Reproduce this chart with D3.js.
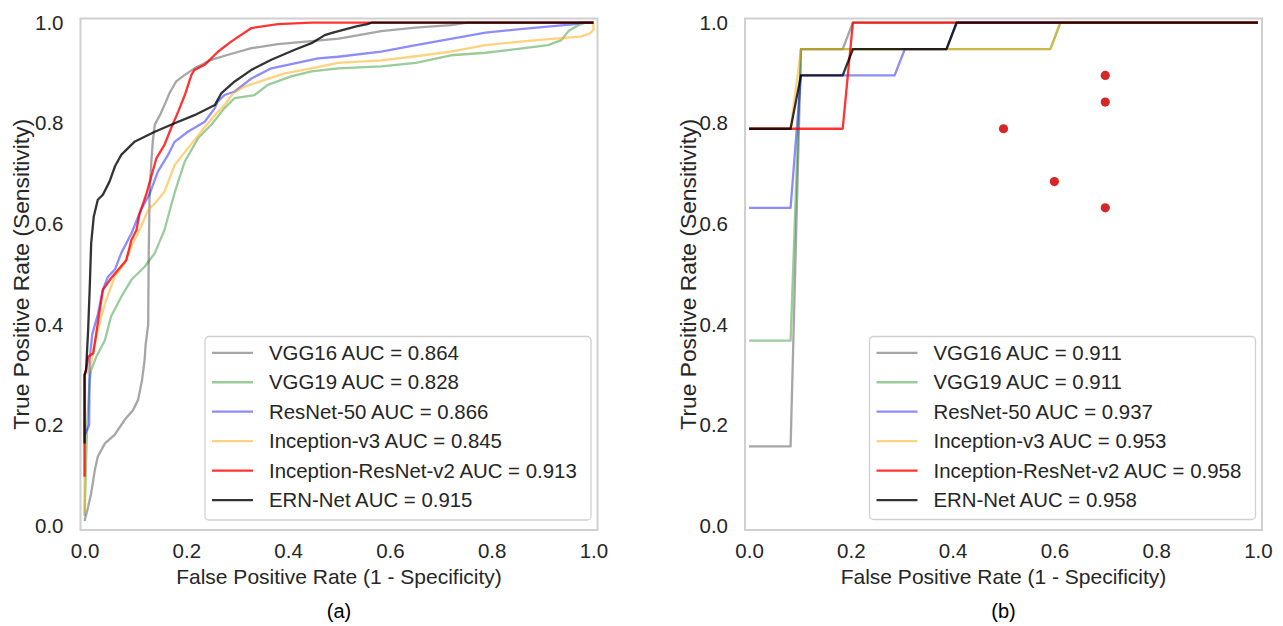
<!DOCTYPE html>
<html>
<head>
<meta charset="utf-8">
<script src="https://cdnjs.cloudflare.com/ajax/libs/d3/7.8.5/d3.min.js"></script>
<style>
  body { margin: 0; background: #fff; }
  svg { display: block; font-family: "Liberation Sans", Arial, sans-serif; }
</style>
</head>
<body>
<svg id="fig" width="1283" height="626"></svg>
<script>
(function () {

  // model names, in plotting order
  var models = ["VGG16", "VGG19", "ResNet-50", "Inception-v3", "Inception-ResNet-v2", "ERN-Net"]
  var aucA = ["0.864", "0.828", "0.866", "0.845", "0.913", "0.915"]
  var aucB = ["0.911", "0.911", "0.937", "0.953", "0.958", "0.958"]
  var ticks = [0.0, 0.2, 0.4, 0.6, 0.8, 1.0]

  // panel (a) ROC points [fpr, tpr]
  var rocA_vgg16 = [[0,0.01],[0.007,0.038],[0.013,0.065],[0.02,0.11],[0.026,0.138],[0.04,0.164],[0.059,0.181],
    [0.079,0.211],[0.095,0.23],[0.105,0.25],[0.113,0.29],[0.118,0.33],[0.12,0.36],[0.125,0.4],[0.126,0.535],
    [0.128,0.667],[0.131,0.72],[0.134,0.763],[0.138,0.797],[0.148,0.816],[0.157,0.836],[0.167,0.86],[0.18,0.883],
    [0.197,0.896],[0.216,0.909],[0.249,0.926],[0.282,0.936],[0.328,0.949],[0.38,0.957],[0.446,0.963],[0.5,0.968],
    [0.583,0.983],[0.65,0.99],[0.72,0.995],[0.753,1.0],[1,1]]
  var rocA_vgg19 = [[0,0.02],[0.005,0.2],[0.01,0.29],[0.013,0.31],[0.023,0.336],[0.04,0.369],[0.052,0.416],
    [0.072,0.455],[0.092,0.489],[0.118,0.515],[0.138,0.542],[0.157,0.588],[0.167,0.625],[0.177,0.662],[0.197,0.724],
    [0.223,0.77],[0.249,0.797],[0.275,0.83],[0.295,0.85],[0.334,0.856],[0.36,0.876],[0.406,0.893],[0.446,0.903],
    [0.498,0.909],[0.583,0.913],[0.651,0.92],[0.72,0.935],[0.788,0.94],[0.856,0.948],[0.911,0.955],[0.937,0.965],
    [0.951,0.983],[0.971,0.995],[0.985,1.0],[1,1]]
  var rocA_resnet = [[0,0.18],[0.009,0.2],[0.01,0.33],[0.015,0.38],[0.026,0.42],[0.036,0.47],[0.046,0.495],
    [0.06,0.51],[0.072,0.542],[0.092,0.581],[0.111,0.628],[0.128,0.66],[0.144,0.704],[0.164,0.737],[0.177,0.763],
    [0.203,0.783],[0.236,0.803],[0.256,0.83],[0.262,0.843],[0.275,0.856],[0.295,0.863],[0.328,0.889],[0.367,0.909],
    [0.413,0.919],[0.459,0.929],[0.498,0.932],[0.583,0.942],[0.651,0.955],[0.788,0.98],[0.856,0.987],[0.964,0.997],
    [0.975,1.0],[1,1]]
  var rocA_incv3 = [[0,0.026],[0,0.3],[0.01,0.31],[0.026,0.389],[0.04,0.442],[0.059,0.495],[0.079,0.522],
    [0.092,0.555],[0.108,0.588],[0.125,0.628],[0.141,0.644],[0.157,0.664],[0.177,0.717],[0.203,0.75],[0.229,0.783],
    [0.256,0.816],[0.275,0.836],[0.292,0.86],[0.315,0.873],[0.354,0.886],[0.393,0.899],[0.446,0.909],[0.498,0.92],
    [0.583,0.925],[0.651,0.933],[0.72,0.942],[0.788,0.955],[0.856,0.962],[0.924,0.968],[0.975,0.972],[0.992,0.978],
    [1.0,0.985],[1.0,1.0]]
  var rocA_incres = [[0,0.098],[0,0.3],[0.003,0.31],[0.007,0.336],[0.017,0.343],[0.026,0.403],[0.036,0.469],
    [0.052,0.492],[0.066,0.509],[0.082,0.528],[0.092,0.568],[0.102,0.588],[0.108,0.62],[0.121,0.658],[0.141,0.73],
    [0.157,0.757],[0.17,0.79],[0.184,0.823],[0.197,0.856],[0.21,0.896],[0.216,0.906],[0.236,0.916],[0.262,0.942],
    [0.288,0.962],[0.328,0.989],[0.38,0.997],[0.445,1.0],[1,1]]
  var rocA_ern = [[0,0.164],[0,0.3],[0.003,0.31],[0.007,0.389],[0.01,0.469],[0.013,0.562],[0.018,0.614],
    [0.026,0.648],[0.036,0.658],[0.049,0.684],[0.06,0.715],[0.072,0.737],[0.085,0.75],[0.098,0.763],[0.138,0.783],
    [0.177,0.8],[0.216,0.816],[0.256,0.836],[0.269,0.86],[0.295,0.883],[0.328,0.906],[0.367,0.926],[0.413,0.946],
    [0.446,0.959],[0.472,0.975],[0.488,0.98],[0.536,0.993],[0.556,0.997],[0.565,1.0],[1,1]]

  // panel (b) ROC points [fpr, tpr]
  var rocB_vgg16 = [[0,0.158],[0.0816,0.158],[0.102,0.947],[0.184,0.947],[0.204,1],[1,1]]
  var rocB_vgg19 = [[0,0.368],[0.0816,0.368],[0.102,0.947],[0.592,0.947],[0.612,1],[1,1]]
  var rocB_resnet = [[0,0.632],[0.0816,0.632],[0.102,0.895],[0.286,0.895],[0.306,0.947],[0.388,0.947],[0.408,1],[1,1]]
  var rocB_incv3 = [[0,0.789],[0.0816,0.789],[0.102,0.947],[0.592,0.947],[0.612,1],[1,1]]
  var rocB_incres = [[0,0.789],[0.184,0.789],[0.204,1],[1,1]]
  var rocB_ern = [[0,0.789],[0.0816,0.789],[0.102,0.895],[0.184,0.895],[0.204,0.947],[0.388,0.947],[0.408,1],[1,1]]

  // red scatter points in panel (b)
  var dotsFpr = [0.5, 0.6, 0.7, 0.7, 0.7]
  var dotsTpr = [0.789, 0.684, 0.895, 0.842, 0.632]

  var lineColors = ["gray", "green", "blue", "orange", "red", "black"]
  var lineAlpha = [0.7, 0.4, 0.45, 0.5, 0.8, 0.8]
  var textColor = "#262626"

  var svg = d3.select("#fig")

  panel({left: 80.5, right: 597.5, top: 18.5, bottom: 530, letter: "(a)",
    curves: [rocA_vgg16, rocA_vgg19, rocA_resnet, rocA_incv3, rocA_incres, rocA_ern], auc: aucA,
    legend: {x: 205, y: 336.5, w: 386, h: 183.5}, ylabX: 29})

  panel({left: 745, right: 1262, top: 18.5, bottom: 530, letter: "(b)",
    curves: [rocB_vgg16, rocB_vgg19, rocB_resnet, rocB_incv3, rocB_incres, rocB_ern], auc: aucB,
    legend: {x: 869.5, y: 336.5, w: 386, h: 183}, ylabX: 696, dots: true})

  function panel(p) {
    var x = d3.scaleLinear().domain([-0.008, 1.008]).range([p.left, p.right])
    var y = d3.scaleLinear().domain([-0.008, 1.008]).range([p.bottom, p.top])
    var g = svg.append("g")

    // frame
    g.append("rect")
      .attr("x", p.left).attr("y", p.top)
      .attr("width", p.right - p.left).attr("height", p.bottom - p.top)
      .attr("fill", "none").attr("stroke", "#d0d0d0").attr("stroke-width", 2)

    // axes, labels only
    var xa = g.append("g").attr("transform", "translate(0," + (p.bottom + 10) + ")")
      .call(d3.axisBottom(x).tickValues(ticks).tickFormat(d3.format(".1f")).tickSize(0))
    var ya = g.append("g").attr("transform", "translate(" + (p.left - 14) + ",0)")
      .call(d3.axisLeft(y).tickValues(ticks).tickFormat(d3.format(".1f")).tickSize(0))
    ;[xa, ya].forEach(function (a) {
      a.select(".domain").remove()
      a.selectAll("text").attr("font-size", 20.5).attr("fill", textColor)
        .attr("font-family", "Liberation Sans, Arial, sans-serif")
    })

    var cx = (x(0) + x(1)) / 2
    g.append("text").attr("x", cx).attr("y", p.bottom + 54)
      .attr("text-anchor", "middle").attr("font-size", 21).attr("fill", textColor)
      .text("False Positive Rate (1 - Specificity)")
    g.append("text")
      .attr("transform", "translate(" + p.ylabX + "," + (p.top + p.bottom) / 2 + ") rotate(-90)")
      .attr("text-anchor", "middle").attr("font-size", 22.8).attr("fill", textColor)
      .text("True Positive Rate (Sensitivity)")
    g.append("text").attr("x", cx).attr("y", p.bottom + 88)
      .attr("text-anchor", "middle").attr("font-size", 20).attr("fill", "#000")
      .text(p.letter)

    var line = d3.line()
      .x(function (d) { return x(d[0]) })
      .y(function (d) { return y(d[1]) })

    p.curves.forEach(function (c, i) {
      g.append("path")
        .attr("d", line(c))
        .attr("fill", "none")
        .attr("stroke", lineColors[i])
        .attr("stroke-opacity", lineAlpha[i])
        .attr("stroke-width", 2.3)
        .attr("stroke-linejoin", "round")
    })

    if (p.dots) {
      g.selectAll(".dot").data(dotsFpr).enter()
        .append("circle")
        .attr("class", "dot")
        .attr("cx", function (d) { return x(d) })
        .attr("cy", function (d, i) { return y(dotsTpr[i]) })
        .attr("r", 4.6)
        .attr("fill", "#d62728")
    }

    // legend
    var L = p.legend
    var lg = g.append("g")
    lg.append("rect")
      .attr("x", L.x).attr("y", L.y).attr("width", L.w).attr("height", L.h)
      .attr("rx", 4).attr("fill", "#fff").attr("fill-opacity", 0.8)
      .attr("stroke", "#d0d0d0").attr("stroke-width", 1.3)
    models.forEach(function (m, i) {
      var ry = L.y + 16.3 + i * 29.45
      lg.append("line")
        .attr("x1", L.x + 7).attr("x2", L.x + 48)
        .attr("y1", ry).attr("y2", ry)
        .attr("stroke", lineColors[i]).attr("stroke-opacity", lineAlpha[i])
        .attr("stroke-width", 2.3)
      lg.append("text")
        .attr("x", L.x + 64).attr("y", ry).attr("dy", "0.35em")
        .attr("font-size", 20.4).attr("fill", textColor)
        .text(m + " AUC = " + p.auc[i])
    })
  }

})();
</script>
</body>
</html>
